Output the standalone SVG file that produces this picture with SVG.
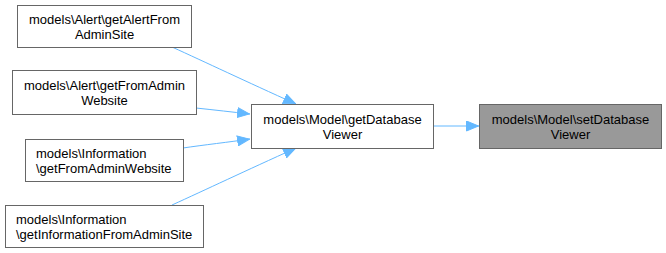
<svg xmlns="http://www.w3.org/2000/svg" width="666" height="253" viewBox="0 0 666 253">
  <style>
    .node rect { fill: #ffffff; stroke: #666666; stroke-width: 1; }
    .node.current rect { fill: #999999; }
    .node text { font-family: "Liberation Sans", Arial, sans-serif; font-size: 13px; fill: #000000; }
    .edge { fill: none; stroke: #63b8ff; stroke-width: 1; marker-end: url(#arrow); }
  </style>
  <defs>
    <marker id="arrow" viewBox="0 0 13 11" refX="13" refY="5.5" markerWidth="13" markerHeight="11" markerUnits="userSpaceOnUse" orient="auto">
      <path d="M0.5,0.5 L12.5,5.5 L0.5,10.5 Z" fill="#63b8ff" stroke="#63b8ff"/>
    </marker>
  </defs>
  <rect width="666" height="253" fill="#ffffff"/>

  <g id="connectors">
    <path class="edge" d="M172,47 C205,62 245,81 296,104"/>
    <path class="edge" d="M196,108 C215,110 232,112 250,114"/>
    <path class="edge" d="M183,148 C203,145 230,142 250,139"/>
    <path class="edge" d="M172,205 C205,190 245,171 296,148"/>
    <path class="edge" d="M433,126 L479,126"/>
  </g>

  <g id="node-getAlertFromAdminSite" class="node">
    <rect x="17.5" y="5.5" width="174" height="42"/>
    <text x="104.5" y="24" text-anchor="middle">models\Alert\getAlertFrom</text>
    <text x="104.5" y="39" text-anchor="middle">AdminSite</text>
  </g>

  <g id="node-alertGetFromAdminWebsite" class="node">
    <rect x="12.5" y="70.5" width="184" height="44"/>
    <text x="104.5" y="90" text-anchor="middle">models\Alert\getFromAdmin</text>
    <text x="104.5" y="105" text-anchor="middle">Website</text>
  </g>

  <g id="node-informationGetFromAdminWebsite" class="node">
    <rect x="25.5" y="139.5" width="158" height="42"/>
    <text x="36" y="158">models\Information</text>
    <text x="36" y="173">\getFromAdminWebsite</text>
  </g>

  <g id="node-getInformationFromAdminSite" class="node">
    <rect x="5.5" y="205.5" width="198" height="42"/>
    <text x="16" y="224">models\Information</text>
    <text x="16" y="239">\getInformationFromAdminSite</text>
  </g>

  <g id="node-getDatabaseViewer" class="node">
    <rect x="251.5" y="104.5" width="182" height="44"/>
    <text x="342.5" y="124" text-anchor="middle">models\Model\getDatabase</text>
    <text x="342.5" y="139" text-anchor="middle">Viewer</text>
  </g>

  <g id="node-setDatabaseViewer" class="node current">
    <rect x="479.5" y="104.5" width="182" height="44"/>
    <text x="570.5" y="124" text-anchor="middle">models\Model\setDatabase</text>
    <text x="570.5" y="139" text-anchor="middle">Viewer</text>
  </g>
</svg>
